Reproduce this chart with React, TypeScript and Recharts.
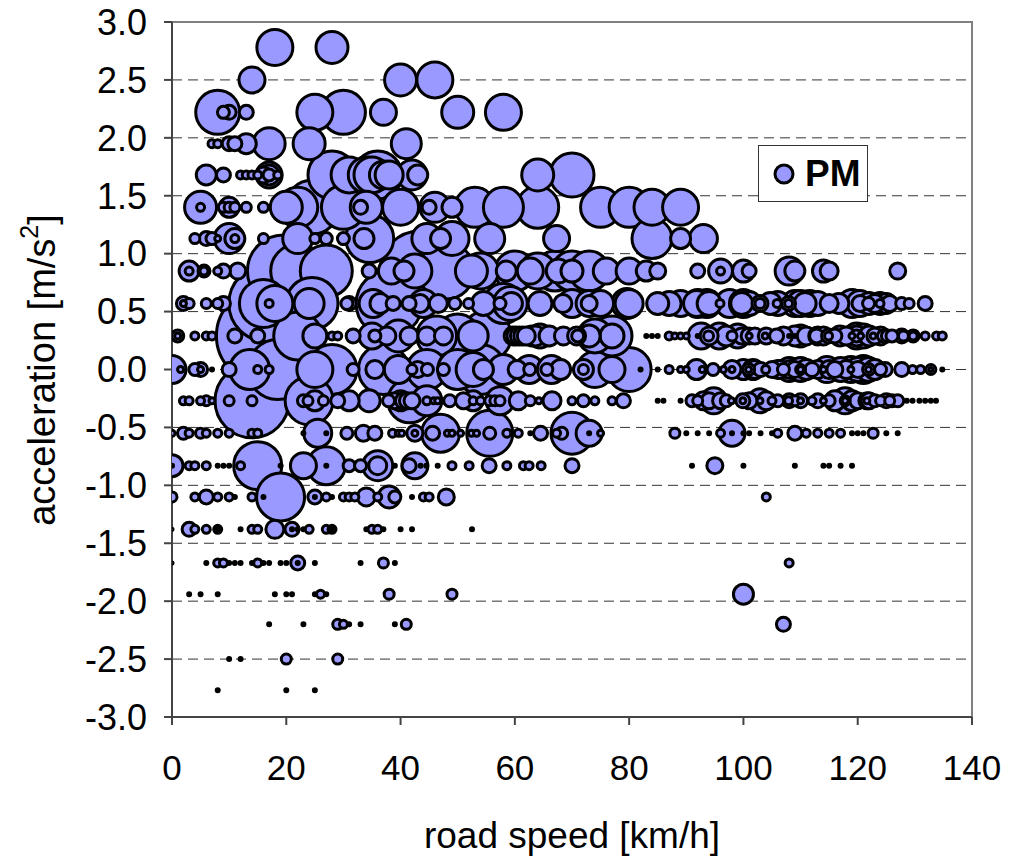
import React from 'react';
import { ScatterChart, Scatter, XAxis, YAxis, ZAxis, CartesianGrid, ReferenceArea, Legend } from 'recharts';

type Pair = [number, number];
const xTicks = [0, 20, 40, 60, 80, 100, 120, 140];
const yTicks = [3, 2.5, 2, 1.5, 1, 0.5, 0, -0.5, -1, -1.5, -2, -2.5, -3];

// [road speed km/h, PM bubble width]
const r278: Pair[] = [[18,18],[28,16]];
const r250: Pair[] = [[14,13],[40,16],[46,18]];
const r222: Pair[] = [[8,22],[9,6],[10,7],[13,7],[25,18],[30,22],[37,13],[50,16],[58,18]];
const r195: Pair[] = [[7,4],[8,4],[10,7],[11,7],[13,10],[17,16],[24,16],[41,15]];
const r168: Pair[] = [[6,10],[9,7],[12,4],[13,4],[14,4],[15,4],[16,8],[17,10],[17,13],[17,6],[18.5,4],[28,24],[31,18],[34,18],[35,18],[36,24],[37,14],[38,14],[42,15],[43,10],[64,16],[70,22]];
const r140: Pair[] = [[5,16],[5,4],[9,5],[10,10],[10,5],[11,5],[13,5],[16,5],[20,16],[22,20],[24.5,27],[30,22],[33,7],[34,16],[40,18],[45,7],[46,15],[49,10],[53,20],[58,20],[64,21],[75,20],[80,20],[84,18],[89,18]];
const r113: Pair[] = [[4,5],[6,7],[7,6],[8,3],[10,15],[11,10],[11,4],[16,5],[22,15],[25,5],[27,6],[30,6],[33.6,10],[34.6,24],[44.6,15],[47,10],[49,17],[55.6,15],[67.3,13],[84,20],[89,10],[93,14]];
const r085: Pair[] = [[3,10],[3,4],[5.6,6],[5.6,4],[8,4],[9,7],[11.5,8],[19.5,36],[22,27],[27,26],[34.5,7],[38.4,13],[40.6,10],[42.5,17],[43.4,40],[48,28],[52.4,16],[54,18],[58.5,10],[60,20],[62.7,13],[64,18],[67.6,12],[67,20],[70,11],[70,20],[73,20],[76,13],[80,13],[83,10],[85,8],[92,7],[96,12],[96,4],[100,11],[101,7],[108,14],[109,10],[114,11],[115,9],[127,8]];
const r057: Pair[] = [[2,7],[2,3],[3,5],[6,5],[8,5],[9,7],[16.6,38],[16,24],[17,4],[18,18],[24,15],[24.5,26],[30.6,6],[31,7],[35.2,14],[36.4,10],[38,33],[38.7,7],[41.5,7],[43.4,9],[44,14],[46.6,9],[49.5,6],[51.9,5],[54.5,12],[57.4,6],[59.2,17],[59.4,11],[58,20],[64.4,12],[68.4,9],[70,14],[73,13],[73,8],[75,13],[79.6,15],[80,14],[85,11],[87,12],[89,13],[91.8,13],[92,14],[93.6,14],[94,12],[95.9,4],[97.6,14],[99.7,11],[100,14],[101,12],[102.9,8],[102.9,5],[104.7,11],[105.9,4],[106,12],[107.9,7],[107.9,4],[109,13],[110.8,11],[111.6,13],[110,13],[113,12],[115,9],[116.7,10],[119,14],[120.4,13],[120.4,8],[121.9,6],[122,11],[123,9],[123.9,11],[123.9,4],[125,10],[125.6,8],[127.7,6],[129,5],[131.8,7]];
const r029: Pair[] = [[1,6],[1,3],[4,4],[6,4],[7,4],[11,7],[15,7],[16,47],[22,24],[25,12],[28,4],[29,4],[31.7,7],[35,13],[35.5,6],[37.6,9],[39.6,16],[41.5,9],[44.6,9],[46.3,20],[47.5,9],[50,22],[52.7,15],[55,25],[59.7,9],[60.2,9],[60.8,9],[61.4,9],[62,9],[63,10],[63.6,10],[64.4,12],[66,10],[68.5,9],[70.8,9],[71,6],[73,11],[74,17],[77,20],[77,12],[83,1.5],[84,1.5],[85,1.5],[87,4],[88,3],[89,3],[90,3],[92,1.5],[92.6,13],[93.9,5],[94,9],[95.8,13],[97,10],[98,5],[99,12],[99.7,8],[101,8],[101,3],[102,8],[103.8,3],[104,8],[105.8,7],[107,9],[108,1.5],[109,10],[109,1.5],[110,11],[111,9],[112.8,7],[113,9],[114,9],[114.9,7],[114.9,4],[116,7],[116.9,10],[118,9],[119.8,13],[119.8,10],[119.8,6],[119,3],[120.5,3],[121,12],[122,10],[122.7,3],[123,8],[124,9],[124.5,6],[125.2,6],[126,6],[127.7,7],[128,5],[129.7,6],[129.7,4],[131.8,4],[133.8,4],[134.8,4]];
const r000: Pair[] = [[0,14],[1.5,3],[4,6],[5,7],[5,3],[7,1.5],[10,7],[13.6,20],[15,4],[17,4],[18.5,30],[25,18],[28,25],[31.7,6],[35.5,9],[37,25],[39.6,14],[42,5],[43,8],[44.7,6],[44.6,20],[47.5,6],[50,20],[52.7,17],[54.5,10],[54,25],[58,15],[60.4,9],[62.6,6],[62.5,14],[65.6,6],[66.4,14],[68,10],[72,5],[72,10],[74,18],[77,13],[80,22],[82,1.5],[85,1.5],[87,4],[89,3],[90,3],[91.8,10],[92.8,3],[94.7,6],[96.5,3],[98,9],[98,3],[100,10],[100.9,6],[100.9,3],[101.7,10],[102,9],[103,7],[103.9,4],[105,8],[106,9],[106.4,9],[107,6],[108,12],[108.2,9],[109,8],[110,12],[110,5],[110,3],[111,10],[112,7],[113,9],[114,3],[114.6,13],[115,9],[116,8],[117,12],[118,9],[118.8,13],[118.8,3],[120,12],[120,8],[121,14],[121.9,12],[121.9,6],[121.9,3],[123,10],[124,6],[124.8,7],[127.7,7],[129.6,4],[131,4],[132.8,5],[132.8,2],[134.8,1.5]];
const r027: Pair[] = [[2,4],[3,4],[5,4],[6,5],[7,3],[10,5],[14,5],[14,37],[24,24],[23,6],[23.8,5],[25,10],[26.5,5],[29,7],[31,10],[34.5,11],[37.9,6],[39,8],[40,10],[40.5,8],[41.6,22],[41.2,8],[42,8],[44.6,4],[44.6,15],[45.8,3],[46.5,3],[48.6,6],[51,8],[52.7,4],[52.7,10],[54,4],[55.6,5],[56.5,5],[57.4,5],[57.4,14],[60.6,9],[62.7,5],[64.2,3],[66.5,9],[70,4],[72,6],[74,4],[77,4],[79,7],[85,1.5],[86,1.5],[89,1.5],[91,6],[92,5],[93,9],[94,8],[94.8,13],[96,8],[97,6],[97.9,3],[99.9,7],[99.9,3],[101,8],[102.9,12],[102.9,3],[104,9],[105,4],[106,6],[107.9,4],[108,7],[109,5],[110,7],[110,3],[112,4],[113,7],[114,3],[115,6],[116,10],[117.8,13],[117.8,5],[117.8,3],[119,10],[120,8],[121.6,8],[121.6,3],[122,8],[123,6],[124,5],[125,7],[125.6,5],[126,6],[127,6],[128.6,1.5],[129.6,1.5],[130.8,1.5],[131.8,1.5],[132.8,1.5],[133.7,1.5]];
const r055: Pair[] = [[0,3],[2,6],[3,4],[5,5],[6,4],[8,4],[10,4],[14,4],[15,4],[23,1.5],[25.5,14],[27,1.5],[30.6,6],[33.5,8],[35.5,7],[38.6,4],[39.6,3],[40.2,3],[42.5,8],[42.5,3],[45.6,7],[47,19],[48.2,3],[49,3],[50.5,3],[52.4,3],[53.3,3],[55.6,6],[55.6,23],[58.6,4],[60.6,4],[62.7,1.5],[64.5,7],[67.3,4],[68.2,6],[70,21],[73,13],[73,1.5],[75,3],[88,5],[90,1.5],[92,1.5],[94,1.5],[96,4],[98,13],[98,1.5],[100,1.5],[101,1.5],[103,1.5],[105,1.5],[106,4],[109,7],[111,4],[113,4],[115,4],[117,4],[119,1.5],[120,1.5],[121,1.5],[122.7,5],[125,1.5],[127,1.5]];
const r083: Pair[] = [[0,11],[0,1.5],[3,4],[4,4],[6,4],[8,1.5],[9,1.5],[10,1.5],[12,4],[15,24],[19,1.5],[23,13],[27,19],[27,1.5],[31,6],[33,6],[36,15],[36,9],[39,1.5],[41.5,7],[42.5,13],[43.5,1.5],[44.5,1.5],[46.5,1.5],[49,4],[52,4],[55.5,7],[58.6,4],[61.5,4],[62.5,4],[64.6,4],[70,7],[91,1.5],[95,8],[100,1.5],[109,1.5],[114,1.5],[115,1.5],[117,1.5],[119,1.5]];
const r110: Pair[] = [[0,5],[4,4],[6,7],[8,4],[10,4],[11,1.5],[14,4],[16,1.5],[19,24],[25,7],[25,1.5],[27,4],[28,1.5],[30,4],[31,4],[32,4],[34,9],[36,4],[38,11],[39,6],[42,1.5],[44,4],[45,4],[48,8],[104,4]];
const r138: Pair[] = [[0,1],[3,7],[4,4],[6,4],[8,4],[8,1.5],[12,1.5],[14,4],[15,4],[18,9],[21,7],[21,1.5],[22,1.5],[23,1.5],[24,4],[27,4],[28,4],[28,1.5],[34,1.5],[35,4],[36,4],[37,1.5],[40,1.5],[42,1.5],[52.5,1.5]];
const r167: Pair[] = [[0,1],[6,1.5],[8,4],[9,4],[10,1.5],[11,1.5],[12,1.5],[14,1.5],[15,4],[16,1.5],[17,1.5],[19,1.5],[20,1.5],[22,7],[22,1.5],[25,1.5],[33,1.5],[37,5],[39,1.5],[108,4]];
const r194: Pair[] = [[3,1.5],[5,1.5],[8,1.5],[18,1.5],[20,1.5],[21,1.5],[25,1.5],[27,1.5],[26,4],[38,5],[49,5],[100,10]];
const r220: Pair[] = [[17,1.5],[23,1.5],[29,5],[30,4],[31,1.5],[33,1.5],[39,1.5],[41,5],[107,7]];
const r250b: Pair[] = [[10,1.5],[12,1.5],[20,5],[29,5]];
const r277: Pair[] = [[8,1.5],[20,1.5],[25,1.5]];

const rows: [number, Pair[]][] = [
  [2.78, r278],[2.5, r250],[2.22, r222],[1.95, r195],[1.68, r168],[1.4, r140],[1.13, r113],[0.85, r085],[0.57, r057],[0.29, r029],[0, r000],[-0.27, r027],[-0.55, r055],[-0.83, r083],[-1.1, r110],[-1.38, r138],[-1.67, r167],[-1.94, r194],[-2.2, r220],[-2.5, r250b],[-2.77, r277],
];
const points = rows
  .flatMap(([a, list]) => list.map(([s, w]) => ({ speed: s, accel: a, pm: w * w })))
  .sort((p, q) => q.pm - p.pm);

const FONT = '"Liberation Sans", Arial, sans-serif';

const YTitle = () => (
  <text x={42} y={370} transform="rotate(-90 42 370)" textAnchor="middle" dominantBaseline="central" fontFamily={FONT} fontSize={38} fill="#000">
    acceleration [m/s<tspan dy={-13} fontSize={25}>2</tspan><tspan dy={13}>]</tspan>
  </text>
);

const LegendBox = () => (
  <div style={{ width: 110, height: 57, border: '1px solid #333', background: '#fff', display: 'flex', alignItems: 'center', boxSizing: 'border-box', fontFamily: FONT }}>
    <svg width={46} height={30} style={{ flex: 'none' }}>
      <circle cx={25} cy={15} r={9} fill="#9999FF" stroke="#000" strokeWidth={3} />
    </svg>
    <span style={{ fontWeight: 700, fontSize: 37 }}>PM</span>
  </div>
);

export default function App() {
  return (
    <div style={{ position: 'absolute', left: 0, top: 0, width: 1029, height: 856, background: '#fff' }}>
      <ScatterChart width={1029} height={856} margin={{ top: 22, right: 57, bottom: 0, left: 0 }}>
        <CartesianGrid vertical={false} stroke="#333" strokeDasharray="10 6" strokeWidth={1} />
        <ReferenceArea x1={0} x2={140} y1={-3} y2={3} fill="none" stroke="#808080" strokeWidth={2} ifOverflow="visible" />
        <XAxis type="number" dataKey="speed" domain={[0, 140]} ticks={xTicks} allowDataOverflow height={139}
          stroke="#444" strokeWidth={2} tickSize={8} tickLine={{ stroke: '#444' }} interval={0}
          tick={{ fontFamily: FONT, fontSize: 35, fill: '#000' }} tickMargin={30}
          label={{ value: 'road speed [km/h]', position: 'insideBottom', offset: 8, fontFamily: FONT, fontSize: 37, fill: '#000' }} />
        <YAxis type="number" dataKey="accel" domain={[-3, 3]} ticks={yTicks} allowDataOverflow width={172} interval={0}
          stroke="#444" strokeWidth={2} tickSize={8} tickLine={{ stroke: '#444' }}
          tick={{ fontFamily: FONT, fontSize: 36, fill: '#000' }} tickMargin={17}
          tickFormatter={(v: number) => v.toFixed(1)}
          label={<YTitle />} />
        <ZAxis type="number" dataKey="pm" domain={[0, 2500]} range={[0, 2500 * Math.PI]} />
        <Legend layout="horizontal" align="center" verticalAlign="middle" content={<LegendBox />}
          wrapperStyle={{ left: 758, top: 145, width: 110 }} />
        <Scatter name="PM" data={points} fill="#9999FF" stroke="#000" strokeWidth={3} isAnimationActive={false} />
      </ScatterChart>
    </div>
  );
}
